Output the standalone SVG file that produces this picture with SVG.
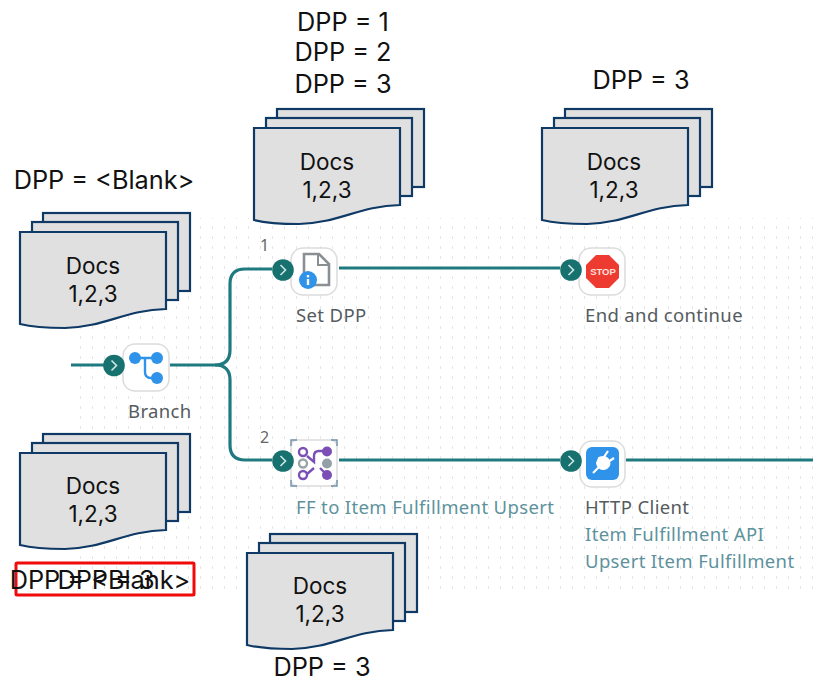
<svg xmlns="http://www.w3.org/2000/svg" width="813" height="678" viewBox="0 0 813 678">
<style>
.sheet{fill:#e0e0e0;stroke:#0f3a66;stroke-width:2.2;stroke-linejoin:miter}
.big{font-family:"Inter","Liberation Sans",sans-serif;font-size:25.3px;fill:#111;text-anchor:middle}
.doc{font-family:"Inter","Liberation Sans",sans-serif;font-size:22.500px;fill:#111;text-anchor:middle}
.lab{font-family:"Noto Sans","Open Sans",sans-serif;font-size:18.500px;letter-spacing:.36px;fill:#555b60}
.sub{font-family:"Noto Sans","Open Sans",sans-serif;font-size:18.500px;letter-spacing:.36px;fill:#5d929c}
.num{font-family:"Noto Sans","Open Sans",sans-serif;font-size:16px;fill:#666}
.conn{fill:none;stroke:#1f7a80;stroke-width:3.2}
.card{fill:#fff;stroke:#dcdcdc;stroke-width:1.5}
.chev{fill:none;stroke:#cfe6e6;stroke-width:1.6}
.port{fill:#17716f}
</style>
<defs>
<pattern id="dots" x="3" y="3" width="12" height="10" patternUnits="userSpaceOnUse">
<rect x="5" y="3" width="1" height="3" fill="#e6e6e6"/>
</pattern>
<g id="stack">
<rect class="sheet" x="23" y="-19" width="147" height="78"/>
<rect class="sheet" x="12" y="-10" width="146" height="78"/>
<path class="sheet" d="M0 0H146V77C105 78 85 95 45 96C25 96 12 95 0 92Z"/>
</g>
<g id="port"><circle class="port" cx="0" cy="0" r="10.800"/><path class="chev" d="M-2.500 -5L2.500 0L-2.500 5"/></g>
</defs>
<rect x="75" y="218" width="738" height="372" fill="url(#dots)"/>
<g id="connectors">
<path class="conn" d="M71 365H113M170 365H215Q230 365 230 350V284Q230 269 245 269H272"/>
<path class="conn" d="M215 365Q230 365 230 380V445Q230 460 245 460H272"/>
<path class="conn" d="M339 268H560M339 460H560M626 460H813"/>
</g>
<g id="stack-blank-top"><use href="#stack" x="20" y="232"/><text class="doc" x="93" y="274">Docs</text><text class="doc" x="93" y="302">1,2,3</text></g>
<g id="stack-top-mid"><use href="#stack" x="254" y="128"/><text class="doc" x="327" y="170">Docs</text><text class="doc" x="327" y="198">1,2,3</text></g>
<g id="stack-top-right"><use href="#stack" x="542" y="128"/><text class="doc" x="614" y="170">Docs</text><text class="doc" x="614" y="198">1,2,3</text></g>
<g id="stack-low-left"><use href="#stack" x="20" y="453"/><text class="doc" x="93" y="494">Docs</text><text class="doc" x="93" y="522">1,2,3</text></g>
<g id="stack-low-mid"><use href="#stack" x="247" y="553"/><text class="doc" x="320" y="594">Docs</text><text class="doc" x="320" y="622">1,2,3</text></g>
<g id="node-branch">
<rect class="card" x="123" y="344" width="46" height="47" rx="12"/>
<use href="#port" x="114" y="365.500"/>
<path d="M135 358H158M145 358V372Q145 378 151 378H156" fill="none" stroke="#2f93ea" stroke-width="2.400"/>
<circle cx="135" cy="358" r="6" fill="#2f93ea"/><circle cx="157" cy="358" r="6" fill="#2f93ea"/><circle cx="157" cy="378" r="6" fill="#2f93ea"/>
<text class="lab" x="128" y="418">Branch</text>
</g>
<g id="node-setdpp">
<rect class="card" x="291" y="248" width="46" height="47" rx="12"/>
<use href="#port" x="283" y="270"/>
<path d="M304 275V254H319L329 264V285H313" fill="none" stroke="#8a8f94" stroke-width="2.600"/><path d="M318 254V265H329" fill="none" stroke="#8a8f94" stroke-width="2"/>
<circle cx="308" cy="280" r="9" fill="#2f93ea"/><rect x="306.800" y="279" width="2.400" height="6" fill="#fff"/><rect x="306.800" y="275" width="2.400" height="2.400" fill="#fff"/>
<text class="num" x="260" y="251">1</text>
<text class="lab" x="296" y="322">Set DPP</text>
</g>
<g id="node-ff">
<rect class="card" x="291" y="440" width="46" height="46" rx="6"/>
<path d="M291 446V440H297M331 440H337V446M337 480V486H331M297 486H291V480" fill="none" stroke="#6f8fa8" stroke-width="1.400"/>
<use href="#port" x="283" y="461"/>
<path d="M307 456L314 462V456Q314 451 319 451H326M307 474L314 468M320 468L327 475" fill="none" stroke="#7b4fb5" stroke-width="2.400"/>
<circle cx="303" cy="452" r="4" fill="#fff" stroke="#7b4fb5" stroke-width="2.400"/><circle cx="303" cy="463.500" r="4" fill="#fff" stroke="#9aa5a8" stroke-width="2.400"/><circle cx="303" cy="475" r="4" fill="#fff" stroke="#7b4fb5" stroke-width="2.400"/>
<circle cx="327" cy="451.500" r="5" fill="#7b4fb5"/><circle cx="327" cy="463.500" r="5" fill="#93a1a6"/><circle cx="327" cy="475" r="5" fill="#7b4fb5"/>
<text class="num" x="260" y="443">2</text>
<text class="sub" x="296" y="514">FF to Item Fulfillment Upsert</text>
</g>
<g id="node-stop">
<rect class="card" x="579" y="248" width="46" height="47" rx="12"/>
<use href="#port" x="571" y="270"/>
<polygon points="596,255 609,255 619,265 619,278 609,288 596,288 586,278 586,265" fill="#ee3b32"/>
<text x="603" y="275" font-family="Liberation Sans,sans-serif" font-size="9.500" font-weight="700" fill="#ffe1dc" text-anchor="middle">STOP</text>
<text class="lab" x="585" y="322">End and continue</text>
</g>
<g id="node-http">
<rect class="card" x="580" y="441" width="45" height="46" rx="12" stroke="#e8dcd3"/>
<use href="#port" x="571" y="461"/>
<rect x="586" y="447" width="33" height="33" rx="6" fill="#2f93ea"/>
<path d="M593 473L599 467" stroke="#fff" stroke-width="2.200"/>
<path d="M599 458Q606 455 609 461Q611 467 604 469Q598 469 597 463Z" fill="#fff" stroke="#fff" stroke-width="2" stroke-linejoin="round"/>
<path d="M604 457L608 451M608 462L614 458" stroke="#fff" stroke-width="2.200"/>
<text class="lab" x="585" y="514">HTTP Client</text>
<text class="sub" x="585" y="541">Item Fulfillment API</text>
<text class="sub" x="585" y="568">Upsert Item Fulfillment</text>
</g>
<g id="annotations">
<text class="big" x="343" y="31">DPP = 1</text>
<text class="big" x="343" y="61">DPP = 2</text>
<text class="big" x="343" y="93">DPP = 3</text>
<text class="big" x="641" y="89">DPP = 3</text>
<text class="big" x="104" y="189">DPP = &lt;Blank&gt;</text>
<text class="big" x="322" y="676">DPP = 3</text>
<rect x="16" y="563" width="178" height="32" fill="none" stroke="#f00a0a" stroke-width="3" rx="1"/>
<text class="big" x="106" y="589">DPP = 3</text>
<text class="big" x="100" y="589">DPP = &lt;Blank&gt;</text>
</g>
</svg>
